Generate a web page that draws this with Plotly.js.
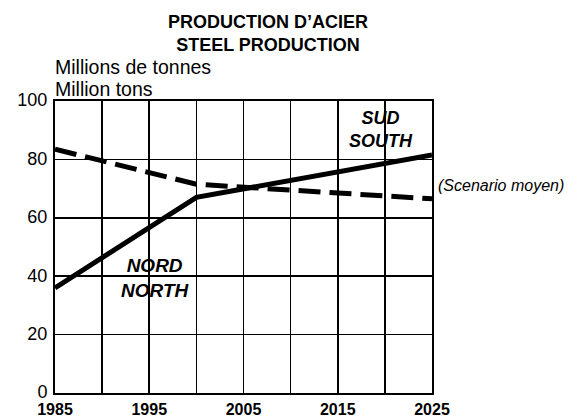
<!DOCTYPE html>
<html>
<head>
<meta charset="utf-8">
<script src="https://cdn.plot.ly/plotly-3.0.1.min.js"></script>
<style>html,body{margin:0;padding:0;background:#fff;}#chart{width:588px;height:419px;}</style>
</head>
<body>
<div id="chart"></div>
<script>
// Data
var years = [1985, 2000, 2025];
var north = [36, 67, 81.5];   // NORD / NORTH (solid)
var south = [83.5, 71.5, 66.5]; // SUD / SOUTH (dashed)
var xTickVals = [1985, 1990, 1995, 2000, 2005, 2010, 2015, 2020, 2025];
var xTickText = ["1985", "", "1995", "", "2005", "", "2015", "", "2025"];
var yTickVals = [0, 20, 40, 60, 80, 100];

var FONT = "Liberation Sans, Arial, Helvetica, sans-serif";

var traces = [
  {x: years, y: north, type: "scatter", mode: "lines", name: "NORTH",
   line: {color: "#000", width: 5}, hoverinfo: "skip"},
  {x: years, y: south, type: "scatter", mode: "lines", name: "SOUTH",
   line: {color: "#000", width: 5, dash: "22px,9px"}, hoverinfo: "skip"}
];

var layout = {
  width: 588, height: 419,
  margin: {l: 55, r: 156, t: 101, b: 26},
  paper_bgcolor: "#fff", plot_bgcolor: "#fff",
  showlegend: false,
  font: {family: FONT, color: "#000"},
  title: {
    text: "PRODUCTION D’ACIER<br>STEEL PRODUCTION",
    font: {family: FONT, size: 18, weight: "bold", color: "#000"},
    xref: "container", x: 268/588, xanchor: "center",
    yref: "container", y: 1 - 28/419, yanchor: "middle"
  },
  xaxis: {
    range: [1985, 2025], tickmode: "array", tickvals: xTickVals, ticktext: xTickText,
    showgrid: true, gridcolor: "#000", gridwidth: 1.6,
    showline: true, linecolor: "#000", linewidth: 2, mirror: true,
    zeroline: false, ticks: "",
    tickfont: {family: FONT, size: 16, weight: "bold", color: "#000"},
    ticklabelstandoff: 1
  },
  yaxis: {
    range: [0, 100], tickmode: "array", tickvals: yTickVals,
    showgrid: true, gridcolor: "#000", gridwidth: 1.6,
    showline: true, linecolor: "#000", linewidth: 2, mirror: true,
    zeroline: false, ticks: "",
    tickfont: {family: FONT, size: 18, color: "#000"},
    ticklabelstandoff: 2, ticklabelshift: -1
  },
  annotations: [
    {text: "Millions de tonnes", xref: "paper", yref: "paper",
     x: -0.006, y: (393.5 - 68) / 292, xanchor: "left", yanchor: "middle", align: "left",
     showarrow: false, font: {family: FONT, size: 19.5, color: "#000"}},
    {text: "Million tons", xref: "paper", yref: "paper",
     x: -0.006, y: (393.5 - 89) / 292, xanchor: "left", yanchor: "middle", align: "left",
     showarrow: false, font: {family: FONT, size: 19.5, color: "#000"}},
    {text: "<b><i>SUD</i></b><br><b><i>SOUTH</i></b>", xref: "x", yref: "y",
     x: 2019.6, y: 90.4, xanchor: "center", yanchor: "middle", align: "center",
     showarrow: false, font: {family: FONT, size: 18, color: "#000"}},
    {text: "<b><i>NORD</i></b><br><b><i>NORTH</i></b>", xref: "x", yref: "y",
     x: 1995.6, y: 39.5, xanchor: "center", yanchor: "middle", align: "center",
     showarrow: false, font: {family: FONT, size: 19, color: "#000"}},
    {text: "<i>(Scenario moyen)</i>", xref: "paper", yref: "y",
     x: 1.01, y: 71, xanchor: "left", yanchor: "middle",
     showarrow: false, font: {family: FONT, size: 16, color: "#000"}}
  ]
};

Plotly.newPlot("chart", traces, layout, {displayModeBar: false, staticPlot: true});
</script>
</body>
</html>
